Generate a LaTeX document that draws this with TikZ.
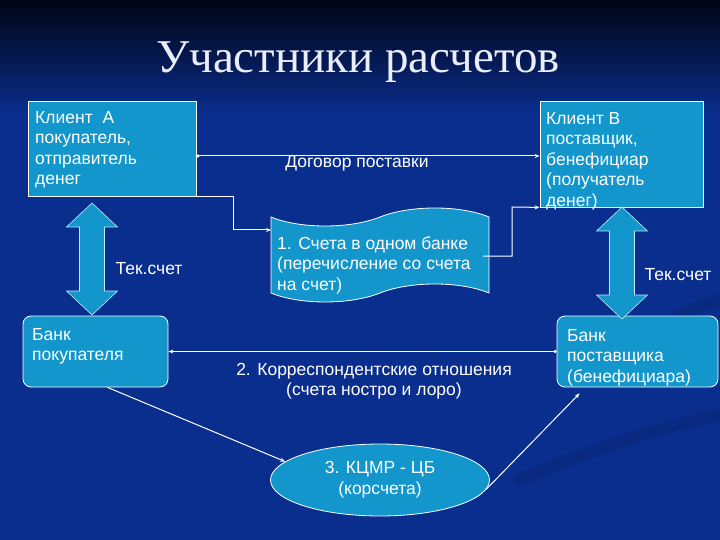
\documentclass[tikz,border=0pt]{standalone}
\usepackage{fontspec}
\setmainfont{Liberation Sans}
\newfontfamily\titlefont{Liberation Serif}
\usepackage{tikz}
\usetikzlibrary{shapes.geometric, arrows.meta, positioning, calc}
\definecolor{bgblue}{RGB}{10,46,142}
\definecolor{bgdark}{RGB}{0,4,20}
\definecolor{boxcyan}{RGB}{18,150,204}
\definecolor{titlewhite}{RGB}{234,238,250}
\definecolor{edgecyan}{RGB}{190,235,250}
\tikzset{
    box/.style={rectangle, draw=white, line width=0.8pt, fill=boxcyan},
    rbox/.style={box, rounded corners=8pt},
    txt/.style={text=white, font=\fontsize{17.5}{20.5}\selectfont, align=left, inner sep=0pt, anchor=north west},
    lbl/.style={text=white, font=\fontsize{17.5}{20.5}\selectfont, align=center, inner sep=0pt},
    link/.style={draw=white, line width=1pt, -{Stealth[length=5pt,width=4pt]}},
    duo/.style={link, {Circle[length=3pt]}-{Stealth[length=5pt,width=4pt]}},
    swoosh/.style={draw=black, opacity=0.09, line width=12pt, line cap=round},
    dblarrow/.pic={
        \draw[fill=boxcyan, draw=edgecyan, line width=0.6pt]
            (0,-56) -- (25.5,-32) -- (12.5,-32) -- (12.5,32) -- (25.5,32) -- (0,56)
            -- (-25.5,32) -- (-12.5,32) -- (-12.5,-32) -- (-25.5,-32) -- cycle;
    }
}
\begin{document}
\begin{tikzpicture}[x=1pt, y=-1pt]
    \useasboundingbox (0,0) rectangle (720,540);
    % background
    \fill[bgblue] (0,0) rectangle (720,540);
    \shade[top color=bgdark, bottom color=bgblue] (0,0) rectangle (720,115);
    \draw[swoosh] (520,480) .. controls (600,445) and (670,425) .. (720,415);
    \draw[swoosh] (650,330) .. controls (680,315) and (700,305) .. (720,300);

    % title
    \node[font=\titlefont\fontsize{47}{52}\selectfont, text=titlewhite] (title) at (358,62) {Участники расчетов};

    % clients
    \node[box, minimum width=168pt, minimum height=95pt] (clientA) at (112,148.5) {};
    \node[txt] (clientAtxt) at (35,111) {Клиент\ \ А\\покупатель,\\отправитель\\денег};
    \node[box, minimum width=163pt, minimum height=106pt] (clientB) at (621.5,154) {};
    \node[txt] (clientBtxt) at (546,112) {Клиент В\\поставщик,\\бенефициар\\(получатель\\денег)};

    % banks
    \node[rbox, minimum width=145pt, minimum height=71pt] (bankA) at (95.5,351.5) {};
    \node[txt] (bankAtxt) at (32,328) {Банк\\покупателя};
    \node[rbox, minimum width=161pt, minimum height=71pt] (bankB) at (637.5,351.5) {};
    \node[txt] (bankBtxt) at (567,329) {Банк\\поставщика\\(бенефициара)};

    % current accounts
    \pic (tekA) at (92,259) {dblarrow};
    \pic (tekB) at (622,263) {dblarrow};
    \node[lbl] (tekAtxt) at (149,269) {Тек.счет};
    \node[lbl] (tekBtxt) at (678,275) {Тек.счет};

    % one bank (punched tape)
    \draw[fill=boxcyan, draw=white, line width=0.8pt]
        (271,217) .. controls (300,229) and (350,229) .. (380,217)
        .. controls (410,205) and (460,205) .. (489,217) -- (489,293)
        .. controls (460,281) and (410,281) .. (380,293)
        .. controls (350,305) and (300,305) .. (271,293) -- cycle;
    \node[txt] (tape) at (277,236) {1. Счета в одном банке\\(перечисление со счета\\на счет)};
    \coordinate (tapein) at (271,230);
    \coordinate (tapeout) at (483,256);

    % clearing centre
    \node[ellipse, draw=white, line width=0.8pt, fill=boxcyan, minimum width=219pt, minimum height=72pt,
          text=white, font=\fontsize{17.5}{21}\selectfont, align=center] (cbr) at (380,480) {3. КЦМР - ЦБ\\(корсчета)};

    % labels
    \coordinate (dog) at (357,156);
    \node[lbl] (dogtxt) at (357,163) {Договор поставки};
    \node[lbl] (kortxt) at (374,381) {2. Корреспондентские отношения\\(счета ностро и лоро)};

    % connections
    \draw[duo] (clientA.east |- dog) -- (clientB.west |- dog);
    \draw[link] (clientA.south east) -| (233,230) -- (tapein);
    \draw[link] (tapeout) -| (512,207) -- (clientB.south west);
    \draw[duo] (bankB.west) -- (bankA.east);
    \draw[link] ($(bankA.south)+(12,0)$) -- (cbr.169);
    \draw[link] (cbr.-5) -- ($(bankB.south west)+(23,6)$);
\end{tikzpicture}
\end{document}
